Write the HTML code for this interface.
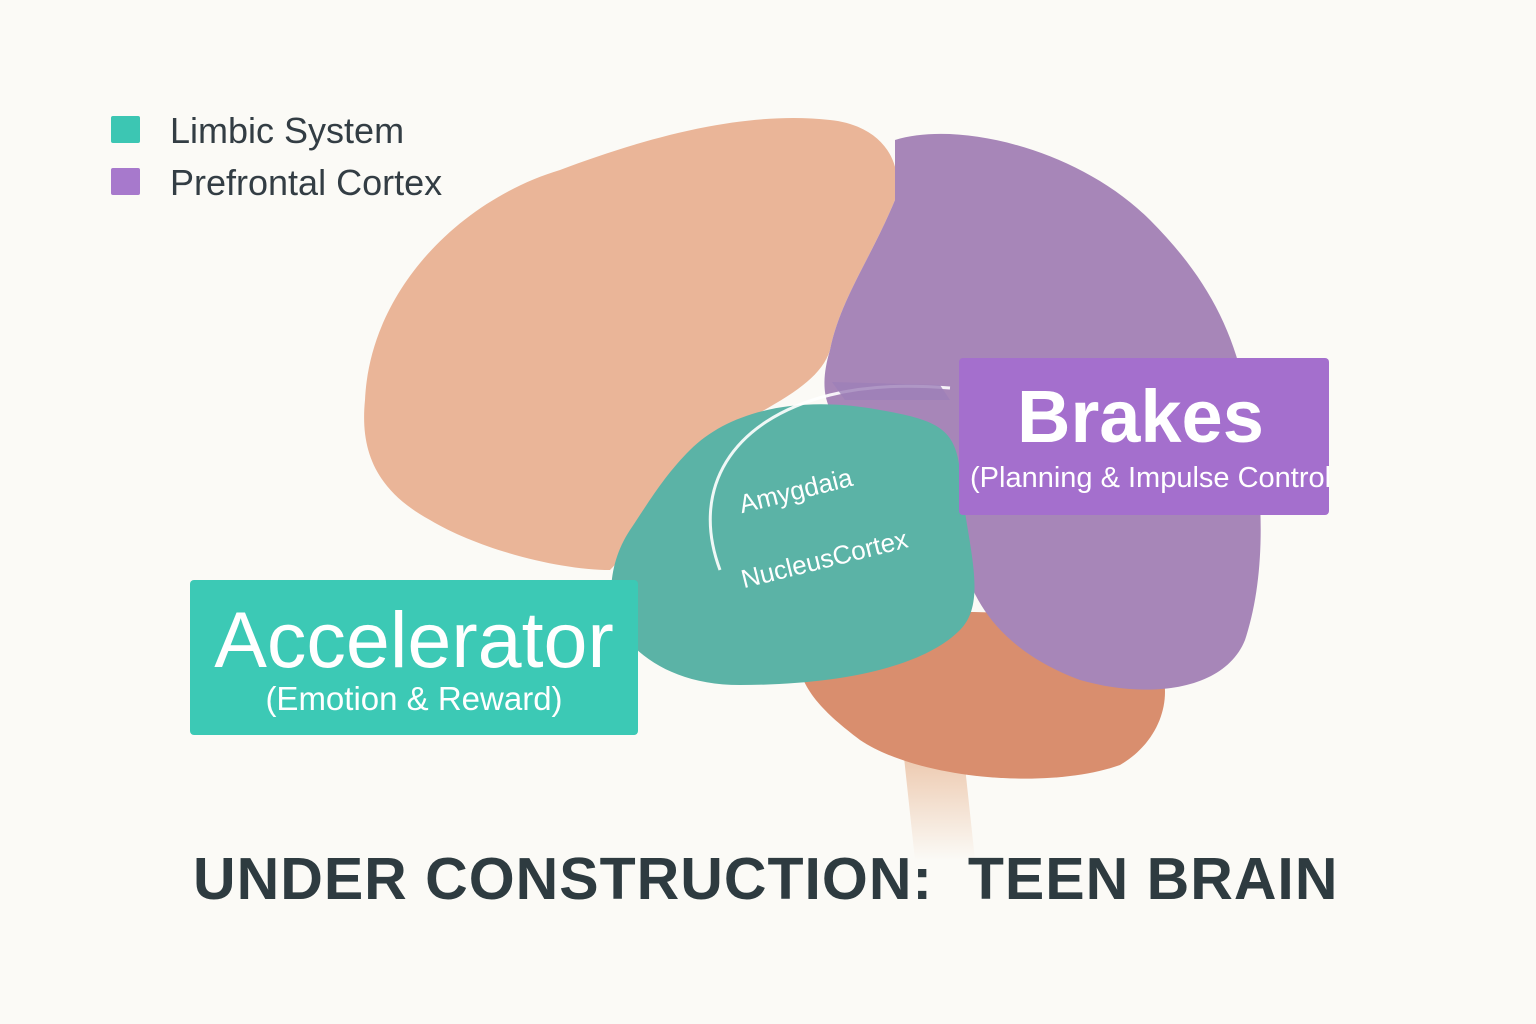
<!DOCTYPE html>
<html><head><meta charset="utf-8"><style>
html,body{margin:0;padding:0;background:#fbfaf6;}
body{width:1536px;height:1024px;position:relative;overflow:hidden;font-family:"Liberation Sans",sans-serif;}
.t{position:absolute;white-space:nowrap;}
</style></head><body>
<svg width="1536" height="1024" style="position:absolute;left:0;top:0">
<defs>
<linearGradient id="stem" x1="0" y1="0" x2="0" y2="1"><stop offset="0" stop-color="#e8b896"/><stop offset="1" stop-color="#fbfaf6"/></linearGradient>
</defs>
<path d="M900 720 L960 720 L975 860 L915 860 Z" fill="url(#stem)"/>
<path d="M800 640 C840 610 1000 600 1120 630 C1180 650 1180 730 1120 765 C1050 790 920 780 860 740 C820 710 790 680 800 640 Z" fill="#d98e6e"/>
<path d="M365 400 C370 290 460 200 560 170 C640 140 740 110 830 120 C880 125 905 160 895 200 C870 260 840 300 830 350 C815 400 720 420 680 470 C650 510 640 540 610 570 C560 570 480 550 430 520 C375 490 360 450 365 400 Z" fill="#eab598"/>
<path d="M895 140 C960 120 1080 150 1150 220 C1210 280 1240 340 1250 420 C1265 500 1265 580 1245 640 C1225 690 1150 700 1080 680 C1000 650 970 600 960 550 C950 500 940 460 880 440 C830 430 815 400 830 350 C840 300 870 260 895 200 Z" fill="#a786b8"/>
<path d="M690 450 C730 410 800 395 880 410 C940 420 955 430 960 470 C965 540 990 600 960 630 C920 670 830 685 740 685 C680 685 640 660 620 630 C605 600 610 560 630 530 C650 500 665 475 690 450 Z" fill="#5bb3a6"/>
<path d="M720 570 C690 490 730 420 830 395 C870 385 910 385 950 388" stroke="#fff" stroke-width="3" fill="none" opacity="0.9"/>
<path d="M832 382 L845 400 L950 400 L940 385 Z" fill="#9e7fb8" opacity="0.8"/>
</svg>
<div class="t" style="left:736px;top:490px;font-size:26px;color:#fff;transform:rotate(-14deg);transform-origin:left top">Amygdaia</div>
<div class="t" style="left:738px;top:565px;font-size:26px;color:#fff;transform:rotate(-14deg);transform-origin:left top">NucleusCortex</div>

<div style="position:absolute;left:111px;top:116px;width:29px;height:27px;background:#3cc6b3;border-radius:2px"></div>
<div style="position:absolute;left:111px;top:168px;width:29px;height:27px;background:#a779cc;border-radius:2px"></div>
<div class="t" style="left:170px;top:110px;font-size:36px;color:#333d44">Limbic System</div>
<div class="t" style="left:170px;top:162px;font-size:36px;color:#333d44">Prefrontal Cortex</div>

<div style="position:absolute;left:959px;top:358px;width:370px;height:157px;background:#a46fcd;border-radius:4px;overflow:hidden">
<div class="t" style="left:58px;top:16px;font-size:74px;color:#fff;font-weight:bold">Brakes</div>
<div class="t" style="left:11px;top:104px;font-size:29px;color:#fff">(Planning &amp; Impulse Control)</div>
</div>
<div style="position:absolute;left:190px;top:580px;width:448px;height:155px;background:#3cc9b5;border-radius:4px">
<div class="t" style="left:0;width:448px;text-align:center;top:14px;font-size:79px;color:#fff">Accelerator</div>
<div class="t" style="left:0;width:448px;text-align:center;top:100px;font-size:33px;color:#fff">(Emotion &amp; Reward)</div>
</div>
<div class="t" style="left:193px;top:845px;font-size:59px;font-weight:bold;color:#2e3b40;letter-spacing:1px">UNDER CONSTRUCTION:&nbsp; TEEN BRAIN</div>
</body></html>
